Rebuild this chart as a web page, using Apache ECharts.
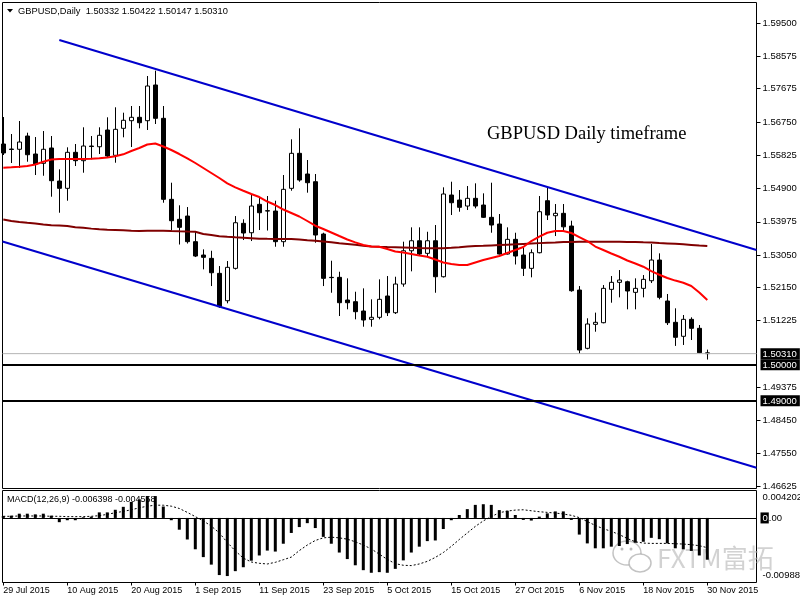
<!DOCTYPE html>
<html>
<head>
<meta charset="utf-8">
<title>GBPUSD Daily</title>
<script src="https://cdn.jsdelivr.net/npm/echarts@6.0.0/dist/echarts.min.js"></script>
<style>
html, body { margin: 0; padding: 0; background: #fff; }
#chart { width: 800px; height: 600px; }
</style>
</head>
<body>
<div id="chart"></div>
<script>
// bar index of each date label, and the label text
var tickIdx = [0, 8, 16, 24, 32, 40, 48, 56, 64, 72, 80, 88];
var tickLabels = ['29 Jul 2015', '10 Aug 2015', '20 Aug 2015', '1 Sep 2015', '11 Sep 2015', '23 Sep 2015',
    '5 Oct 2015', '15 Oct 2015', '27 Oct 2015', '6 Nov 2015', '18 Nov 2015', '30 Nov 2015'];
var priceTicks = [1.59500, 1.58575, 1.57675, 1.56750, 1.55825, 1.54900, 1.53975, 1.53050, 1.52150,
    1.51225, 1.49375, 1.48450, 1.47550, 1.46625];
var macdTicks = [0.004202, 0, -0.009888];

var opens = [1.56137, 1.55998, 1.55990, 1.56359, 1.55859, 1.55600, 1.56026, 1.55108, 1.54905, 1.55906,
    1.55673, 1.56081, 1.56061, 1.56526, 1.55823, 1.56573, 1.56785, 1.56879, 1.56785, 1.57777,
    1.56851, 1.54599, 1.54044, 1.54135, 1.53422, 1.53051, 1.52959, 1.52542, 1.51781, 1.52681,
    1.53932, 1.53671, 1.54460, 1.54283, 1.54274, 1.53422, 1.54905, 1.55878, 1.55303, 1.55089,
    1.53635, 1.52431, 1.52431, 1.51801, 1.51754, 1.51495, 1.51264, 1.51320, 1.51912, 1.51448,
    1.52245, 1.53170, 1.53448, 1.53098, 1.53448, 1.52448, 1.54719, 1.54580, 1.54413, 1.54627,
    1.54441, 1.54099, 1.53913, 1.53079, 1.53487, 1.53051, 1.52681, 1.53115, 1.54561, 1.54144,
    1.54210, 1.53857, 1.52078, 1.50458, 1.51125, 1.51170, 1.52097, 1.52292, 1.52309, 1.52014,
    1.52125, 1.52337, 1.52912, 1.51773, 1.51181, 1.50792, 1.51264, 1.51014, 1.50332];
var closes = [1.55887, 1.55984, 1.56192, 1.55839, 1.55581, 1.55990, 1.55117, 1.54905, 1.55906, 1.55673,
    1.56081, 1.56067, 1.56379, 1.55803, 1.56545, 1.56796, 1.56879, 1.56729, 1.57749, 1.56851,
    1.54599, 1.54005, 1.53821, 1.53422, 1.53023, 1.52987, 1.52559, 1.51615, 1.52709, 1.53949,
    1.53663, 1.54413, 1.54227, 1.54274, 1.53422, 1.54877, 1.55878, 1.55136, 1.55061, 1.53607,
    1.52403, 1.52423, 1.51726, 1.51726, 1.51476, 1.51245, 1.51320, 1.51820, 1.51448, 1.52245,
    1.53170, 1.53448, 1.53079, 1.53448, 1.52448, 1.54747, 1.54505, 1.54377, 1.54627, 1.54413,
    1.54099, 1.53885, 1.53079, 1.53487, 1.53023, 1.52681, 1.53115, 1.54255, 1.54163, 1.54210,
    1.53835, 1.52059, 1.50411, 1.51134, 1.51181, 1.52125, 1.52292, 1.52356, 1.52051, 1.52125,
    1.52375, 1.52912, 1.51875, 1.51170, 1.50764, 1.51264, 1.51014, 1.50336, 1.50310];
var lows = [1.55831, 1.55609, 1.55470, 1.55645, 1.55275, 1.55255, 1.54672, 1.54227, 1.54561, 1.55525,
    1.55339, 1.55712, 1.55859, 1.55767, 1.55617, 1.56323, 1.56053, 1.56573, 1.56526, 1.56693,
    1.54505, 1.53732, 1.53343, 1.53371, 1.52995, 1.52653, 1.52189, 1.51584, 1.51709, 1.52648,
    1.53468, 1.53440, 1.53746, 1.53732, 1.53282, 1.53282, 1.54839, 1.55089, 1.54784, 1.53393,
    1.52189, 1.52003, 1.51356, 1.51542, 1.51264, 1.51059, 1.51059, 1.51264, 1.51356, 1.51412,
    1.52170, 1.52598, 1.53023, 1.53003, 1.52003, 1.52426, 1.54163, 1.54255, 1.54302, 1.54349,
    1.54080, 1.53671, 1.53065, 1.53065, 1.52788, 1.52469, 1.52431, 1.53098, 1.54024, 1.53579,
    1.53746, 1.52031, 1.50300, 1.50430, 1.50920, 1.51153, 1.51726, 1.51875, 1.51542, 1.51542,
    1.51875, 1.52273, 1.51820, 1.51106, 1.50525, 1.50551, 1.50689, 1.50319, 1.50147];
var highs = [1.56887, 1.56415, 1.56776, 1.56451, 1.56331, 1.56498, 1.56359, 1.55433, 1.56045, 1.56137,
    1.56601, 1.56359, 1.56601, 1.56879, 1.57157, 1.57007, 1.57193, 1.57193, 1.58027, 1.58175,
    1.57193, 1.55061, 1.54433, 1.54385, 1.53690, 1.53209, 1.53170, 1.52745, 1.52884, 1.54135,
    1.54044, 1.54733, 1.54655, 1.54691, 1.54561, 1.55275, 1.56267, 1.56573, 1.55692, 1.55303,
    1.53671, 1.52893, 1.52587, 1.52403, 1.52031, 1.52125, 1.51820, 1.52375, 1.52467, 1.52448,
    1.53422, 1.53821, 1.53821, 1.53698, 1.53885, 1.54933, 1.55089, 1.54858, 1.54969, 1.55044,
    1.54766, 1.55061, 1.54191, 1.53821, 1.53671, 1.53265, 1.53209, 1.54691, 1.54933, 1.54469,
    1.54469, 1.54005, 1.52189, 1.51293, 1.51450, 1.52217, 1.52467, 1.52634, 1.52337, 1.52403,
    1.52495, 1.53357, 1.53098, 1.51968, 1.51570, 1.51384, 1.51320, 1.51106, 1.50422];

// moving averages as drawn on the chart (red fast, dark red slow)
var maFast = [1.55478, 1.55489, 1.55505, 1.55525, 1.55567, 1.55645, 1.55706, 1.55720, 1.55720, 1.55720,
    1.55720, 1.55728, 1.55739, 1.55761, 1.55795, 1.55850, 1.55942, 1.56026, 1.56123, 1.56151,
    1.56067, 1.55970, 1.55859, 1.55739, 1.55609, 1.55470, 1.55331, 1.55192, 1.55045, 1.54933,
    1.54839, 1.54747, 1.54663, 1.54538, 1.54441, 1.54316, 1.54219, 1.54122, 1.53997, 1.53866,
    1.53774, 1.53677, 1.53579, 1.53482, 1.53404, 1.53329, 1.53287, 1.53282, 1.53218, 1.53148,
    1.53120, 1.53079, 1.53037, 1.53003, 1.52926, 1.52843, 1.52801, 1.52773, 1.52773, 1.52843,
    1.52912, 1.52968, 1.53023, 1.53107, 1.53190, 1.53274, 1.53440, 1.53565, 1.53671, 1.53718,
    1.53718, 1.53663, 1.53551, 1.53440, 1.53287, 1.53190, 1.53093, 1.53003, 1.52899, 1.52815,
    1.52726, 1.52606, 1.52503, 1.52412, 1.52341, 1.52281, 1.52189, 1.52009, 1.51801];
var maSlow = [1.54038, 1.53997, 1.53969, 1.53949, 1.53930, 1.53899, 1.53877, 1.53869, 1.53857, 1.53824,
    1.53807, 1.53785, 1.53765, 1.53754, 1.53746, 1.53738, 1.53727, 1.53718, 1.53724, 1.53727,
    1.53727, 1.53718, 1.53710, 1.53704, 1.53699, 1.53635, 1.53607, 1.53574, 1.53557, 1.53543,
    1.53532, 1.53518, 1.53504, 1.53501, 1.53499, 1.53496, 1.53496, 1.53482, 1.53462, 1.53446,
    1.53426, 1.53404, 1.53379, 1.53357, 1.53335, 1.53312, 1.53290, 1.53279, 1.53273, 1.53268,
    1.53262, 1.53254, 1.53246, 1.53243, 1.53240, 1.53237, 1.53251, 1.53268, 1.53287, 1.53301,
    1.53307, 1.53318, 1.53329, 1.53340, 1.53349, 1.53360, 1.53371, 1.53382, 1.53393, 1.53401,
    1.53410, 1.53415, 1.53421, 1.53421, 1.53421, 1.53421, 1.53421, 1.53418, 1.53415, 1.53410,
    1.53404, 1.53399, 1.53385, 1.53374, 1.53363, 1.53349, 1.53332, 1.53315, 1.53301];

var macdHist = [0.0003, 0.00035, 0.00065, 0.00065, 0.00055, 0.00065, 0.00035, -0.00065, -0.00035, -0.00035,
    0.0001, 0.0002, 0.00085, 0.00085, 0.00125, 0.0017, 0.00245, 0.00285, 0.00335, 0.00335,
    0.00175, -0.00035, -0.0018, -0.0033, -0.0048, -0.006, -0.00715, -0.00875, -0.0089, -0.00815,
    -0.00755, -0.00655, -0.00575, -0.005, -0.00515, -0.00395, -0.0023, -0.0014, -0.0008, -0.00155,
    -0.0029, -0.00395, -0.0053, -0.0063, -0.00725, -0.008, -0.0084, -0.0083, -0.0084, -0.0078,
    -0.0065, -0.0053, -0.0044, -0.00355, -0.00345, -0.0017, -0.00035, 0.00045, 0.00135, 0.002,
    0.0021, 0.002, 0.0012, 0.0011, 0.00045, -0.0003, -0.0004, 0.0002, 0.0007, 0.001,
    0.001, -0.0003, -0.00255, -0.0039, -0.00465, -0.00465, -0.0044, -0.0043, -0.004, -0.0038,
    -0.00365, -0.00305, -0.00325, -0.0039, -0.00465, -0.0048, -0.00505, -0.00575, -0.006398];
var macdSignal = [0.00025, 0.00025, 0.0003, 0.0003, 0.0003, 0.0003, 0.00025, 0.00025, 0.0002, 0.0002,
    0.0002, 0.00025, 0.00035, 0.00055, 0.0008, 0.001, 0.00125, 0.00155, 0.0018, 0.00195,
    0.00195, 0.0018, 0.00145, 0.00085, 0.0002, -0.00045, -0.00125, -0.0023, -0.00375, -0.00505,
    -0.00615, -0.00675, -0.00695, -0.00705, -0.0068, -0.0064, -0.006, -0.005, -0.00415, -0.00345,
    -0.00305, -0.00295, -0.00305, -0.00325, -0.00365, -0.00415, -0.00475, -0.00555, -0.00635, -0.007,
    -0.00725, -0.0073, -0.00705, -0.00665, -0.00605, -0.0053, -0.00435, -0.0033, -0.0023, -0.0013,
    -0.00045, 0.0002, 0.0008, 0.00105, 0.0012, 0.00125, 0.0011, 0.00095, 0.00085, 0.00075,
    0.0006, 0.0004, 0.00005, -0.00055, -0.00115, -0.00165, -0.00205, -0.00255, -0.00315, -0.00365,
    -0.00385, -0.0039, -0.0039, -0.0039, -0.00395, -0.004, -0.0041, -0.00425, -0.004558];

// drawn objects: horizontal levels and channel lines ([bar index, price])
var keyLevels = [1.50000, 1.49000];
var trendUpper = [[7, 1.59027], [94.15, 1.53193]];
var trendLower = [[-0.1, 1.53427], [94.15, 1.47140]];

var FONT = '"Liberation Sans", Arial, sans-serif';
var last = opens.length - 1;
var bid = closes[last];
var boxedPrices = [bid].concat(keyLevels);

var candles = opens.map(function (o, i) {
    return [i, o, closes[i], lows[i], highs[i]];
});
function indexed(arr) {
    return arr.map(function (v, i) { return [i, v]; });
}
function hline(value, color, width) {
    return { yAxis: value, lineStyle: { color: color, width: width, type: 'solid' }, label: { show: false } };
}

var titleText = 'GBPUSD,Daily  ' + opens[last].toFixed(5) + ' ' + highs[last].toFixed(5) + ' ' +
    lows[last].toFixed(5) + ' ' + closes[last].toFixed(5);
var macdText = 'MACD(12,26,9) ' + macdHist[last].toFixed(6) + ' ' + macdSignal[last].toFixed(6);

var myChart = echarts.init(document.getElementById('chart'));

var option = {
    animation: false,
    backgroundColor: '#fff',
    grid: [
        { left: 2.5, top: 2.5, width: 754, height: 486, show: true, borderColor: '#000', borderWidth: 1,
          containLabel: false, outerBoundsMode: 'none' },
        { left: 2.5, top: 490.5, width: 754, height: 92, show: true, borderColor: '#000', borderWidth: 1,
          containLabel: false, outerBoundsMode: 'none' }
    ],
    xAxis: [
        {
            type: 'value', gridIndex: 0, min: -0.1, max: 94.15,
            axisLine: { show: false, onZero: false }, axisTick: { show: false },
            axisLabel: { show: false }, splitLine: { show: false }
        },
        {
            type: 'value', gridIndex: 1, min: -0.1, max: 94.15, position: 'bottom',
            axisLine: { show: false, onZero: false },
            axisTick: { show: true, customValues: tickIdx, length: 3, lineStyle: { color: '#000' } },
            axisLabel: {
                customValues: tickIdx, align: 'left', margin: 4,
                color: '#000', fontSize: 9, fontFamily: FONT,
                formatter: function (v) { return tickLabels[tickIdx.indexOf(Math.round(v))]; }
            },
            splitLine: { show: false }
        }
    ],
    yAxis: [
        {
            type: 'value', gridIndex: 0, position: 'right', min: 1.46562, max: 1.60070,
            axisLine: { show: false, onZero: false },
            axisTick: { show: true, customValues: priceTicks, length: 4, lineStyle: { color: '#000' } },
            axisLabel: {
                customValues: priceTicks.concat(boxedPrices), margin: 4,
                color: '#000', fontSize: 9.5, fontFamily: FONT,
                formatter: function (v) {
                    var s = v.toFixed(5);
                    for (var k = 0; k < boxedPrices.length; k++) {
                        if (Math.abs(boxedPrices[k] - v) < 1e-7) return '{hl|' + s + '}';
                    }
                    return '{n|' + s + '}';
                },
                rich: {
                    n: { padding: [0, 0, 0, 2], fontSize: 9.5, fontFamily: FONT, color: '#000' },
                    hl: { padding: [1, 3, 0, 2], fontSize: 9.5, fontFamily: FONT, color: '#fff', backgroundColor: '#000' }
                }
            },
            splitLine: { show: false }
        },
        {
            type: 'value', gridIndex: 1, position: 'right', min: macdTicks[2], max: macdTicks[0],
            axisLine: { show: false, onZero: false },
            axisTick: { show: false },
            axisLabel: {
                customValues: macdTicks, margin: 4, color: '#000', fontSize: 9.5, fontFamily: FONT,
                formatter: function (v) {
                    if (Math.abs(v) < 1e-9) return '{z|0}{n|.00}';
                    return v > 0 ? '{top|' + v.toFixed(6) + '}' : '{bot|' + v.toFixed(6) + '}';
                },
                rich: {
                    top: { padding: [14, 0, 0, 2], fontSize: 9.5, fontFamily: FONT, color: '#000' },
                    bot: { padding: [0, 0, 14, 2], fontSize: 9.5, fontFamily: FONT, color: '#000' },
                    z: { padding: [1, 1, 0, 2], fontSize: 9.5, fontFamily: FONT, color: '#fff', backgroundColor: '#000' },
                    n: { fontSize: 9.5, fontFamily: FONT, color: '#000' }
                }
            },
            splitLine: { show: false }
        }
    ],
    series: [
        {
            name: 'bid', type: 'line', xAxisIndex: 0, yAxisIndex: 0,
            data: [[-0.1, bid], [94.15, bid]], symbol: 'none',
            lineStyle: { color: '#b4b4b4', width: 1 }
        },
        {
            name: 'GBPUSD', type: 'candlestick', xAxisIndex: 0, yAxisIndex: 0,
            data: candles, barWidth: 4,
            itemStyle: { color: '#fff', color0: '#000', borderColor: '#000', borderColor0: '#000', borderWidth: 1 },
            markLine: {
                symbol: ['none', 'none'], silent: true,
                data: [hline(keyLevels[0], '#000', 2), hline(keyLevels[1], '#000', 2)]
            }
        },
        {
            name: 'MA slow', type: 'line', xAxisIndex: 0, yAxisIndex: 0,
            data: indexed(maSlow), showSymbol: false, symbol: 'none',
            lineStyle: { color: '#800000', width: 2 }
        },
        {
            name: 'MA fast', type: 'line', xAxisIndex: 0, yAxisIndex: 0,
            data: indexed(maFast), showSymbol: false, symbol: 'none',
            lineStyle: { color: '#ff0000', width: 2 }
        },
        {
            name: 'channel top', type: 'line', xAxisIndex: 0, yAxisIndex: 0,
            data: trendUpper, symbol: 'none', lineStyle: { color: '#0000cc', width: 2 }
        },
        {
            name: 'channel bottom', type: 'line', xAxisIndex: 0, yAxisIndex: 0,
            data: trendLower, symbol: 'none', lineStyle: { color: '#0000cc', width: 2 }
        },
        {
            name: 'MACD', type: 'bar', xAxisIndex: 1, yAxisIndex: 1,
            data: indexed(macdHist), barWidth: 3,
            itemStyle: { color: '#000' },
            markLine: {
                symbol: ['none', 'none'], silent: true,
                data: [hline(0, '#000', 1)]
            }
        },
        {
            name: 'Signal', type: 'line', xAxisIndex: 1, yAxisIndex: 1,
            data: indexed(macdSignal), symbol: 'none',
            lineStyle: { color: '#000', width: 1, type: [2, 2] }
        }
    ],
    graphic: [
        { type: 'polygon', shape: { points: [[7, 9], [13, 9], [10, 12.5]] }, style: { fill: '#000' } },
        { type: 'text', x: 18, y: 11, style: { text: titleText, font: '9.3px ' + FONT, fill: '#000', verticalAlign: 'middle' } },
        { type: 'text', x: 487, y: 134, style: { text: 'GBPUSD Daily timeframe', font: '18.5px "Liberation Serif", "Times New Roman", serif', fill: '#000', verticalAlign: 'middle' } },
        { type: 'text', x: 7, y: 500, style: { text: macdText, font: '9px ' + FONT, fill: '#000', verticalAlign: 'middle' } },
        // watermark
        { type: 'ellipse', shape: { cx: 627, cy: 553, rx: 14, ry: 12 }, style: { fill: 'none', stroke: 'rgba(170,170,170,0.7)', lineWidth: 1.5 } },
        { type: 'ellipse', shape: { cx: 640, cy: 563, rx: 11, ry: 9 }, style: { fill: '#fff', stroke: 'rgba(170,170,170,0.7)', lineWidth: 1.5 } },
        { type: 'circle', shape: { cx: 622, cy: 549, r: 1.5 }, style: { fill: 'rgba(170,170,170,0.8)' } },
        { type: 'circle', shape: { cx: 631, cy: 549, r: 1.5 }, style: { fill: 'rgba(170,170,170,0.8)' } },
        { type: 'text', x: 657, y: 558, style: { text: 'FXTM富拓', font: '26px "Noto Sans CJK SC", "Noto Sans", sans-serif', fill: 'rgba(180,180,180,0.6)', verticalAlign: 'middle' } }
    ]
};

myChart.setOption(option);
</script>
</body>
</html>
